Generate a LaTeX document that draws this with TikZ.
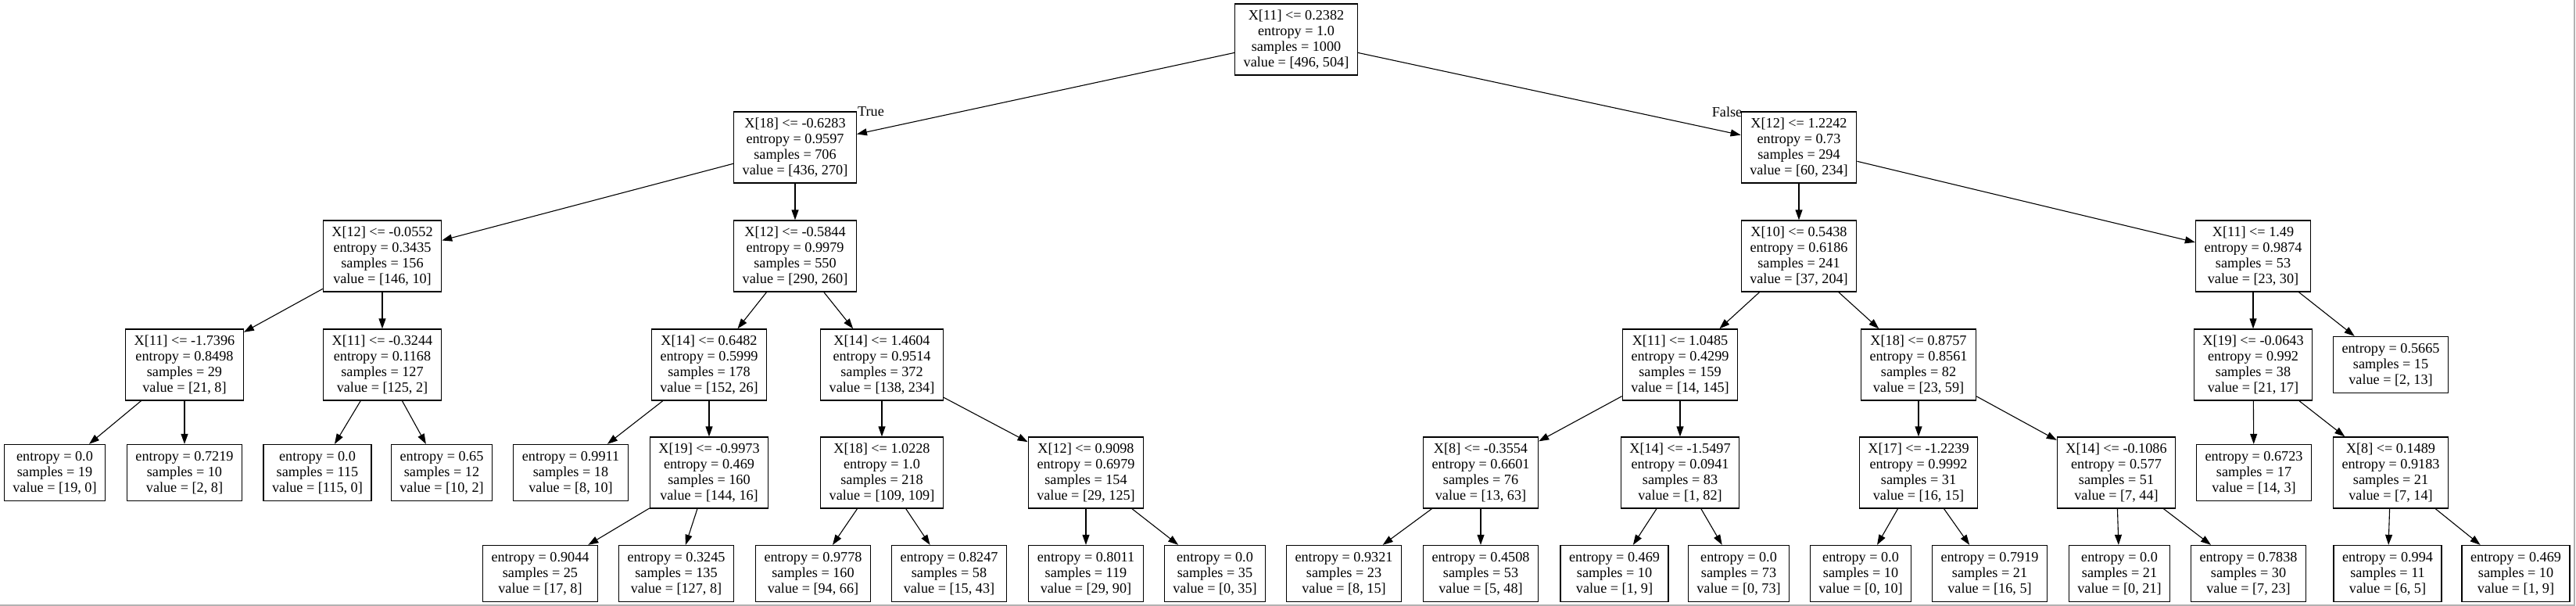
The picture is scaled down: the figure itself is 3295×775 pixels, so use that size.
\documentclass[tikz,border=0pt]{standalone}
\usepackage{fontspec}
\setmainfont{Liberation Serif}
\usetikzlibrary{arrows.meta}
\begin{document}
\begin{tikzpicture}[x=1pt,y=-1pt,
  splitnode/.style={draw, line width=1.3pt, align=center, inner xsep=11pt, inner ysep=0pt,
    minimum height=91pt, font=\fontsize{18.2}{20.1}\selectfont},
  leafnode/.style={splitnode, minimum height=72pt},
  conn/.style={line width=1.1pt, -{Triangle[length=13pt,width=9pt]}},
  lbl/.style={font=\fontsize{18.2}{20.1}\selectfont, inner sep=0pt}]
\useasboundingbox (0,0) rectangle (3295,775);
\draw[gray!60, line width=2pt] (3293,0) -- (3293,774) -- (0,774);
% level y: 50.5 188.5 327.5 466.5 604.5 733.5
\node[splitnode] (root) at (1658,50.5) {X[11] <= 0.2382\\entropy = 1.0\\samples = 1000\\value = [496, 504]};
\node[splitnode] (n18) at (1017,188.5) {X[18] <= -0.6283\\entropy = 0.9597\\samples = 706\\value = [436, 270]};
\node[splitnode] (n12b) at (2301,188.5) {X[12] <= 1.2242\\entropy = 0.73\\samples = 294\\value = [60, 234]};
\node[splitnode] (n12a) at (489,327.5) {X[12] <= -0.0552\\entropy = 0.3435\\samples = 156\\value = [146, 10]};
\node[splitnode] (n12c) at (1017,327.5) {X[12] <= -0.5844\\entropy = 0.9979\\samples = 550\\value = [290, 260]};
\node[splitnode] (n10) at (2301,327.5) {X[10] <= 0.5438\\entropy = 0.6186\\samples = 241\\value = [37, 204]};
\node[splitnode] (n11c) at (2882,327.5) {X[11] <= 1.49\\entropy = 0.9874\\samples = 53\\value = [23, 30]};
\node[splitnode] (n11a) at (236,466.5) {X[11] <= -1.7396\\entropy = 0.8498\\samples = 29\\value = [21, 8]};
\node[splitnode] (n11b) at (489,466.5) {X[11] <= -0.3244\\entropy = 0.1168\\samples = 127\\value = [125, 2]};
\node[splitnode] (n14a) at (907,466.5) {X[14] <= 0.6482\\entropy = 0.5999\\samples = 178\\value = [152, 26]};
\node[splitnode] (n14b) at (1128,466.5) {X[14] <= 1.4604\\entropy = 0.9514\\samples = 372\\value = [138, 234]};
\node[splitnode] (n11d) at (2149,466.5) {X[11] <= 1.0485\\entropy = 0.4299\\samples = 159\\value = [14, 145]};
\node[splitnode] (n18c) at (2454,466.5) {X[18] <= 0.8757\\entropy = 0.8561\\samples = 82\\value = [23, 59]};
\node[splitnode] (n19b) at (2882,466.5) {X[19] <= -0.0643\\entropy = 0.992\\samples = 38\\value = [21, 17]};
\node[leafnode] (lG) at (3058,466.5) {entropy = 0.5665\\samples = 15\\value = [2, 13]};
\node[leafnode] (lA) at (70,604.5) {entropy = 0.0\\samples = 19\\value = [19, 0]};
\node[leafnode] (lB) at (236,604.5) {entropy = 0.7219\\samples = 10\\value = [2, 8]};
\node[leafnode] (lC) at (406,604.5) {entropy = 0.0\\samples = 115\\value = [115, 0]};
\node[leafnode] (lD) at (565,604.5) {entropy = 0.65\\samples = 12\\value = [10, 2]};
\node[leafnode] (lE) at (730,604.5) {entropy = 0.9911\\samples = 18\\value = [8, 10]};
\node[splitnode] (n19a) at (907,604.5) {X[19] <= -0.9973\\entropy = 0.469\\samples = 160\\value = [144, 16]};
\node[splitnode] (n18b) at (1128,604.5) {X[18] <= 1.0228\\entropy = 1.0\\samples = 218\\value = [109, 109]};
\node[splitnode] (n12d) at (1389,604.5) {X[12] <= 0.9098\\entropy = 0.6979\\samples = 154\\value = [29, 125]};
\node[splitnode] (n8a) at (1894,604.5) {X[8] <= -0.3554\\entropy = 0.6601\\samples = 76\\value = [13, 63]};
\node[splitnode] (n14c) at (2149,604.5) {X[14] <= -1.5497\\entropy = 0.0941\\samples = 83\\value = [1, 82]};
\node[splitnode] (n17) at (2454,604.5) {X[17] <= -1.2239\\entropy = 0.9992\\samples = 31\\value = [16, 15]};
\node[splitnode] (n14d) at (2707,604.5) {X[14] <= -0.1086\\entropy = 0.577\\samples = 51\\value = [7, 44]};
\node[leafnode] (lF) at (2883,604.5) {entropy = 0.6723\\samples = 17\\value = [14, 3]};
\node[splitnode] (n8b) at (3058,604.5) {X[8] <= 0.1489\\entropy = 0.9183\\samples = 21\\value = [7, 14]};
\node[leafnode] (m1) at (691,733.5) {entropy = 0.9044\\samples = 25\\value = [17, 8]};
\node[leafnode] (m2) at (865,733.5) {entropy = 0.3245\\samples = 135\\value = [127, 8]};
\node[leafnode] (m3) at (1040,733.5) {entropy = 0.9778\\samples = 160\\value = [94, 66]};
\node[leafnode] (m4) at (1214,733.5) {entropy = 0.8247\\samples = 58\\value = [15, 43]};
\node[leafnode] (m5) at (1389,733.5) {entropy = 0.8011\\samples = 119\\value = [29, 90]};
\node[leafnode] (m6) at (1554,733.5) {entropy = 0.0\\samples = 35\\value = [0, 35]};
\node[leafnode] (m7) at (1719,733.5) {entropy = 0.9321\\samples = 23\\value = [8, 15]};
\node[leafnode] (m8) at (1894,733.5) {entropy = 0.4508\\samples = 53\\value = [5, 48]};
\node[leafnode] (m9) at (2065,733.5) {entropy = 0.469\\samples = 10\\value = [1, 9]};
\node[leafnode] (m10) at (2224,733.5) {entropy = 0.0\\samples = 73\\value = [0, 73]};
\node[leafnode] (m11) at (2380,733.5) {entropy = 0.0\\samples = 10\\value = [0, 10]};
\node[leafnode] (m12) at (2545,733.5) {entropy = 0.7919\\samples = 21\\value = [16, 5]};
\node[leafnode] (m13) at (2711,733.5) {entropy = 0.0\\samples = 21\\value = [0, 21]};
\node[leafnode] (m14) at (2876,733.5) {entropy = 0.7838\\samples = 30\\value = [7, 23]};
\node[leafnode] (m15) at (3054,733.5) {entropy = 0.994\\samples = 11\\value = [6, 5]};
\node[leafnode] (m16) at (3218,733.5) {entropy = 0.469\\samples = 10\\value = [1, 9]};
% labels
\node[lbl] (tl) at (1114,143) {True};
\node[lbl] (fl) at (2209,143) {False};
% edges
\draw[conn] (root) -- (n18);
\draw[conn] (root) -- (n12b);
\draw[conn] (n18) -- (n12a);
\draw[conn] (n18) -- (n12c);
\draw[conn] (n12a) -- (n11a);
\draw[conn] (n12a) -- (n11b);
\draw[conn] (n11a) -- (lA);
\draw[conn] (n11a) -- (lB);
\draw[conn] (n11b) -- (lC);
\draw[conn] (n11b) -- (lD);
\draw[conn] (n12c) -- (n14a);
\draw[conn] (n12c) -- (n14b);
\draw[conn] (n14a) -- (lE);
\draw[conn] (n14a) -- (n19a);
\draw[conn] (n19a) -- (m1);
\draw[conn] (n19a) -- (m2);
\draw[conn] (n14b) -- (n18b);
\draw[conn] (n14b) -- (n12d);
\draw[conn] (n18b) -- (m3);
\draw[conn] (n18b) -- (m4);
\draw[conn] (n12d) -- (m5);
\draw[conn] (n12d) -- (m6);
\draw[conn] (n12b) -- (n10);
\draw[conn] (n12b) -- (n11c);
\draw[conn] (n10) -- (n11d);
\draw[conn] (n10) -- (n18c);
\draw[conn] (n11d) -- (n8a);
\draw[conn] (n11d) -- (n14c);
\draw[conn] (n8a) -- (m7);
\draw[conn] (n8a) -- (m8);
\draw[conn] (n14c) -- (m9);
\draw[conn] (n14c) -- (m10);
\draw[conn] (n18c) -- (n17);
\draw[conn] (n18c) -- (n14d);
\draw[conn] (n17) -- (m11);
\draw[conn] (n17) -- (m12);
\draw[conn] (n14d) -- (m13);
\draw[conn] (n14d) -- (m14);
\draw[conn] (n11c) -- (n19b);
\draw[conn] (n11c) -- (lG);
\draw[conn] (n19b) -- (lF);
\draw[conn] (n19b) -- (n8b);
\draw[conn] (n8b) -- (m15);
\draw[conn] (n8b) -- (m16);
\end{tikzpicture}
\end{document}
